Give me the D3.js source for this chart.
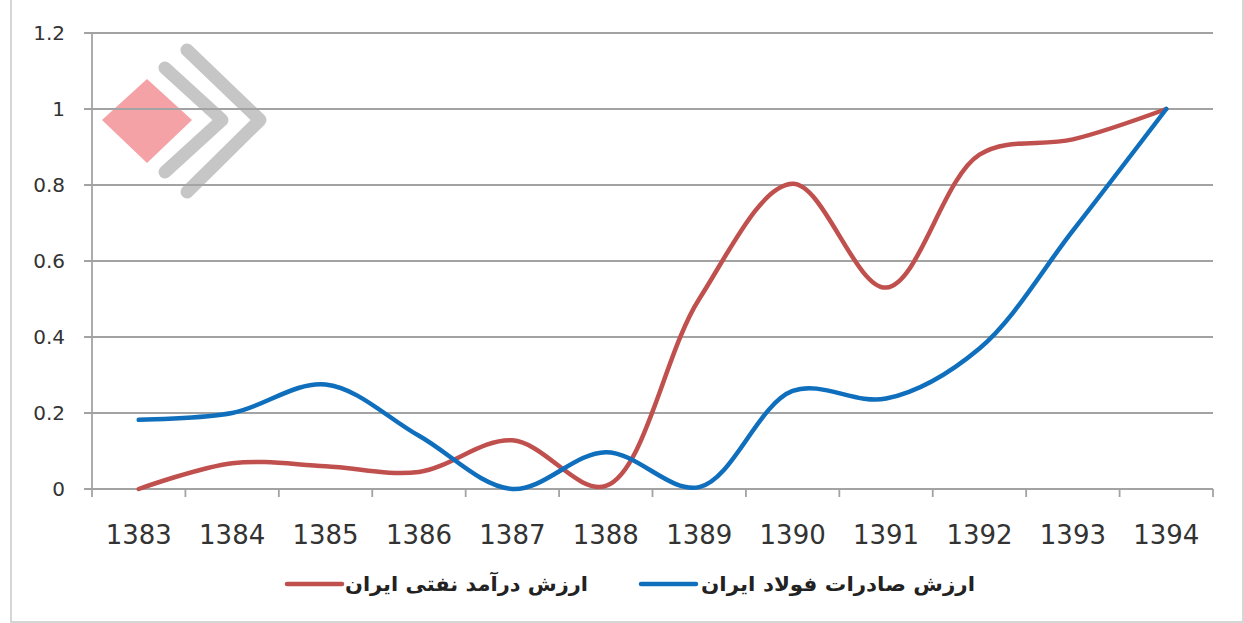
<!DOCTYPE html>
<html>
<head>
<meta charset="utf-8">
<script src="https://cdn.jsdelivr.net/npm/d3@7"></script>
<style>
  body { margin: 0; background: #fff; }
  svg { display: block; }
</style>
</head>
<body>
<div id="chart"></div>
<script>
const years = ['1383', '1384', '1385', '1386', '1387', '1388', '1389', '1390', '1391', '1392', '1393', '1394'];
const oilRevenue = [0, 0.068, 0.06, 0.045, 0.128, 0.008, 0.5, 0.803, 0.53, 0.88, 0.92, 1.0];
const steelExports = [0.182, 0.2, 0.275, 0.14, 0.0, 0.097, 0.005, 0.258, 0.238, 0.37, 0.68, 1.0];
const yTicks = [0, 0.2, 0.4, 0.6, 0.8, 1, 1.2];
const seriesNames = ['ارزش درآمد نفتی ایران', 'ارزش صادرات فولاد ایران'];

const width = 1244;
const height = 623;
const margin = { top: 33, right: 31, bottom: 134, left: 92 };

const svg = d3.select('#chart')
  .append('svg')
  .attr('width', width)
  .attr('height', height);

// frame around the picture
svg.append('path')
  .attr('d', `M11,0V622H1243V0`)
  .attr('fill', 'none')
  .attr('stroke', '#c9c9c9')
  .attr('stroke-width', 1.5);

const x = d3.scaleBand()
  .domain(years)
  .range([margin.left, width - margin.right])
  .padding(0);

const y = d3.scaleLinear()
  .domain([0, 1.2])
  .range([height - margin.bottom, margin.top]);

const cx = d => x(d) + x.bandwidth() / 2;

// watermark logo
const logo = svg.append('g');
logo.append('path')
  .attr('d', 'M165,68L222,120L165,172M187,50L260,120L187,192')
  .attr('fill', 'none')
  .attr('stroke', '#c6c6c6')
  .attr('stroke-width', 13)
  .attr('stroke-linecap', 'round')
  .attr('stroke-linejoin', 'round');
logo.append('path')
  .attr('d', 'M102,120L147,79L192,120L147,163Z')
  .attr('fill', '#f5a2a7');

// gridlines
svg.append('g')
  .selectAll('line')
  .data(yTicks)
  .join('line')
    .attr('x1', margin.left - 8)
    .attr('x2', width - margin.right)
    .attr('y1', d => y(d))
    .attr('y2', d => y(d))
    .attr('stroke', '#a3a3a3')
    .attr('stroke-width', 1.8);

// y axis
svg.append('line')
  .attr('x1', margin.left).attr('x2', margin.left)
  .attr('y1', y(1.2)).attr('y2', y(0))
  .attr('stroke', '#a3a3a3')
  .attr('stroke-width', 1.8);

svg.append('g')
  .attr('transform', `translate(${margin.left - 27},0)`)
  .call(d3.axisLeft(y).tickValues(yTicks).tickSize(0).tickFormat(d => String(d)))
  .call(g => g.select('.domain').remove())
  .call(g => g.selectAll('text')
    .attr('x', 0)
    .attr('font-family', 'DejaVu Sans')
    .attr('font-size', 20)
    .attr('fill', '#333'));

// x axis: ticks between categories
const xg = svg.append('g')
  .attr('transform', `translate(0,${y(0)})`);
xg.call(d3.axisBottom(x).tickSize(0).tickPadding(37))
  .call(g => g.select('.domain').remove())
  .call(g => g.selectAll('text')
    .attr('font-family', 'DejaVu Sans')
    .attr('font-size', 26)
    .attr('fill', '#333'));
xg.append('line')
  .attr('x1', margin.left).attr('x2', width - margin.right)
  .attr('stroke', '#a3a3a3').attr('stroke-width', 1.8);
xg.selectAll('.bound')
  .data(years.map(d => x(d)).concat([x(years[years.length - 1]) + x.bandwidth()]))
  .join('line')
    .attr('class', 'bound')
    .attr('x1', d => d).attr('x2', d => d)
    .attr('y1', 0).attr('y2', 8)
    .attr('stroke', '#a3a3a3').attr('stroke-width', 1.8);

// lines
const line = d3.line()
  .x((d, i) => cx(years[i]))
  .y(d => y(d))
  .curve(d3.curveCatmullRom.alpha(0.5));

const colors = ['#c0504d', '#0f6fbd'];
[oilRevenue, steelExports].forEach((s, k) => {
  svg.append('path')
    .datum(s)
    .attr('d', line)
    .attr('fill', 'none')
    .attr('stroke', colors[k])
    .attr('stroke-width', 4.5)
    .attr('stroke-linecap', 'round')
    .attr('stroke-linejoin', 'round');
});

// legend
const legend = [
  { name: seriesNames[0], color: colors[0], lx: 287, tx: 345, tw: 243 },
  { name: seriesNames[1], color: colors[1], lx: 641, tx: 701, tw: 274 }
];
const lg = svg.append('g').attr('transform', 'translate(0,584)');
lg.selectAll('line')
  .data(legend)
  .join('line')
    .attr('x1', d => d.lx).attr('x2', d => d.lx + 55)
    .attr('stroke', d => d.color)
    .attr('stroke-width', 4.5)
    .attr('stroke-linecap', 'round');
lg.selectAll('text')
  .data(legend)
  .join('text')
    .attr('x', d => d.tx)
    .attr('y', 7)
    .attr('direction', 'rtl')
    .attr('text-anchor', 'end')
    .attr('textLength', d => d.tw)
    .attr('lengthAdjust', 'spacingAndGlyphs')
    .attr('font-family', 'DejaVu Sans')
    .attr('font-weight', 'bold')
    .attr('font-size', 20)
    .attr('fill', '#222')
    .text(d => d.name);
</script>
</body>
</html>
